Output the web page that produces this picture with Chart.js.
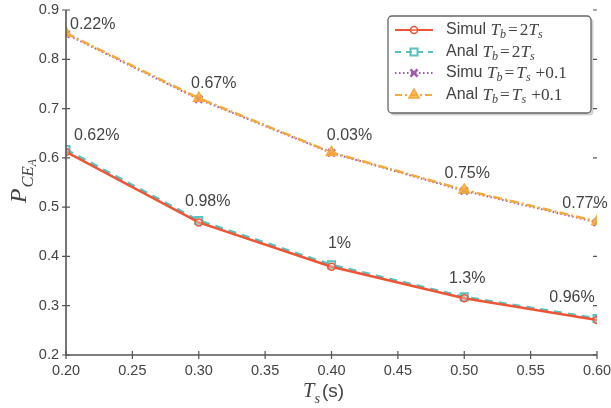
<!DOCTYPE html>
<html><head><meta charset="utf-8">
<script src="https://cdn.jsdelivr.net/npm/chart.js@4/dist/chart.umd.min.js"></script>
<style>html,body{margin:0;padding:0;background:#fff}#wrap{width:611px;height:408px}</style>
</head><body><div id="wrap"><canvas id="c" width="611" height="408"></canvas></div>
<script>
const xValues = [0.20, 0.30, 0.40, 0.50, 0.60];
const simulTb2Ts = [0.612, 0.469, 0.379, 0.315, 0.271];
const analTb2Ts = [0.617, 0.473, 0.383, 0.318, 0.274];
const simuTbTs01 = [0.851, 0.719, 0.610, 0.533, 0.469];
const analTbTs01 = [0.853, 0.721, 0.611, 0.535, 0.471];
const upperLabels = ['0.22%', '0.67%', '0.03%', '0.75%', '0.77%'];
const lowerLabels = ['0.62%', '0.98%', '1%', '1.3%', '0.96%'];
const xTicks = [0.20, 0.25, 0.30, 0.35, 0.40, 0.45, 0.50, 0.55, 0.60];
const yTicks = [0.2, 0.3, 0.4, 0.5, 0.6, 0.7, 0.8, 0.9];

const RED = '#ef5535', CYAN = '#55c3c3', PURPLE = '#a556b2', ORANGE = '#f8a93a';
const TXT = '#444';
const SANS = '"Liberation Sans", Arial, sans-serif';
const SERIF = '"Liberation Serif", "Times New Roman", serif';

function pts(arr){ return xValues.map((x,i)=>({x:x, y:arr[i]})); }

// rich text with subscripts (sub: 1 = subscript, 2 = sub-subscript)
function drawRich(ctx, parts, x, y, size){
  let cx = x;
  for (const p of parts){
    const lvl = p.sub || 0;
    const fs = size * Math.pow(0.7, lvl);
    let font;
    if (p.f === 'sans') font = fs + 'px ' + SANS;
    else if (p.f === 'it') font = 'italic ' + (fs*1.08) + 'px ' + SERIF;
    else font = (fs*1.08) + 'px ' + SERIF;
    ctx.font = font;
    const dy = lvl === 0 ? 0 : (lvl === 1 ? size*0.3 : size*0.45);
    ctx.fillText(p.t, cx, y + dy);
    cx += ctx.measureText(p.t).width + (p.sp || 0);
  }
  return cx - x;
}

const legendItems = [
  {color: RED, dash: [], parts:[{t:'Simul ',f:'sans'},{t:'T',f:'it'},{t:'b',f:'it',sub:1,sp:2},{t:'=',f:'rm',sp:2},{t:'2',f:'rm'},{t:'T',f:'it'},{t:'s',f:'it',sub:1}]},
  {color: CYAN, dash: [6,5], parts:[{t:'Anal ',f:'sans'},{t:'T',f:'it'},{t:'b',f:'it',sub:1,sp:2},{t:'=',f:'rm',sp:2},{t:'2',f:'rm'},{t:'T',f:'it'},{t:'s',f:'it',sub:1}]},
  {color: PURPLE, dash: [1.5,2.5], parts:[{t:'Simu ',f:'sans'},{t:'T',f:'it'},{t:'b',f:'it',sub:1,sp:2},{t:'=',f:'rm',sp:2},{t:'T',f:'it'},{t:'s',f:'it',sub:1,sp:5},{t:'+0.1',f:'rm'}]},
  {color: ORANGE, dash: [7,3,2,3], parts:[{t:'Anal ',f:'sans'},{t:'T',f:'it'},{t:'b',f:'it',sub:1,sp:2},{t:'=',f:'rm',sp:2},{t:'T',f:'it'},{t:'s',f:'it',sub:1,sp:5},{t:'+0.1',f:'rm'}]}
];

function drawMarker(ctx, ds, x, y){
  ctx.save();
  ctx.setLineDash([]);
  ctx.fillStyle = ds.pointBackgroundColor; ctx.strokeStyle = ds.pointBorderColor; ctx.lineWidth = ds.pointBorderWidth;
  Chart.helpers.drawPoint(ctx, {pointStyle: ds.pointStyle, radius: ds.pointRadius, borderWidth: ds.pointBorderWidth, rotation:0}, x, y);
  ctx.restore();
}
function roundRect(ctx, x, y, w, h, r){
  ctx.beginPath();
  ctx.moveTo(x+r, y); ctx.lineTo(x+w-r, y); ctx.arcTo(x+w, y, x+w, y+r, r);
  ctx.lineTo(x+w, y+h-r); ctx.arcTo(x+w, y+h, x+w-r, y+h, r);
  ctx.lineTo(x+r, y+h); ctx.arcTo(x, y+h, x, y+h-r, r);
  ctx.lineTo(x, y+r); ctx.arcTo(x, y, x+r, y, r); ctx.closePath();
}

const decorPlugin = {
  id:'decor',
  afterDatasetsDraw(chart){
    const ctx = chart.ctx, a = chart.chartArea;
    const xs = chart.scales.x, ys = chart.scales.y;
    ctx.save();
    // axes
    ctx.strokeStyle = '#555'; ctx.lineWidth = 1.6; ctx.setLineDash([]);
    ctx.beginPath();
    ctx.moveTo(a.left, a.top); ctx.lineTo(a.left, a.bottom); ctx.lineTo(a.right, a.bottom);
    ctx.stroke();
    ctx.lineWidth = 1.2;
    ctx.beginPath();
    for (const v of yTicks){
      const py = ys.getPixelForValue(v);
      ctx.moveTo(a.left-4, py); ctx.lineTo(a.left+4, py);
      ctx.moveTo(a.right-4, py); ctx.lineTo(a.right, py);
    }
    for (const v of xTicks){
      const px = xs.getPixelForValue(v);
      ctx.moveTo(px, a.bottom-4); ctx.lineTo(px, a.bottom+4);
    }
    ctx.stroke();

    // data labels
    ctx.fillStyle = TXT; ctx.font = '16px ' + SANS; ctx.textBaseline = 'middle';
    const upOff = [[4,-9,'left'],[15,-15,'center'],[18,-17,'center'],[3,-16,'center'],[-12,-18,'center']];
    const loOff = [[8,-14,'left'],[9,-19,'center'],[8,-21,'center'],[3,-18,'center'],[-25,-21,'center']];
    xValues.forEach((x,i)=>{
      const px = xs.getPixelForValue(x);
      let o = upOff[i];
      ctx.textAlign = o[2];
      ctx.fillText(upperLabels[i], px+o[0], ys.getPixelForValue(analTbTs01[i])+o[1]);
      o = loOff[i];
      ctx.textAlign = o[2];
      ctx.fillText(lowerLabels[i], px+o[0], ys.getPixelForValue(analTb2Ts[i])+o[1]);
    });

    // axis titles
    ctx.textAlign = 'left'; ctx.textBaseline = 'alphabetic';
    drawRich(ctx, [{t:'T',f:'it'},{t:'s',f:'it',sub:1,sp:2},{t:'(s)',f:'sans'}], 303, 397, 19);
    ctx.save();
    ctx.translate(26, 203);
    ctx.rotate(-Math.PI/2);
    drawRich(ctx, [{t:'P',f:'it',sp:1},{t:'CE',f:'it',sub:1},{t:'A',f:'it',sub:2}], 0, 0, 22);
    ctx.restore();

    // legend
    const L = {x:388, y:16, w:203, h:97};
    ctx.save();
    ctx.fillStyle = 'rgba(0,0,0,0.18)';
    roundRect(ctx, L.x+2.5, L.y+2.5, L.w, L.h, 4); ctx.fill();
    ctx.fillStyle = '#fff';
    roundRect(ctx, L.x, L.y, L.w, L.h, 4); ctx.fill();
    ctx.strokeStyle = '#666'; ctx.lineWidth = 1.3;
    roundRect(ctx, L.x, L.y, L.w, L.h, 4); ctx.stroke();
    ctx.restore();
    const rows = [30, 52, 73, 95];
    legendItems.forEach((it, i)=>{
      const y = rows[i];
      ctx.strokeStyle = it.color; ctx.lineWidth = 2.2; ctx.setLineDash(it.dash);
      ctx.beginPath(); ctx.moveTo(395, y); ctx.lineTo(433, y); ctx.stroke();
      ctx.setLineDash([]);
      drawMarker(ctx, chart.data.datasets[i], 414, y);
      ctx.fillStyle = TXT; ctx.textAlign='left'; ctx.textBaseline='middle';
      drawRich(ctx, it.parts, 446, y, 16);
    });
    ctx.restore();
  }
};

new Chart(document.getElementById('c'), {
  type:'line',
  data:{datasets:[
    {label:'Simul Tb=2Ts', data:pts(simulTb2Ts), borderColor:RED, borderWidth:2.5, pointStyle:'circle', pointRadius:3.5, pointBorderWidth:1.5, pointBackgroundColor:'rgba(255,255,255,0.3)', pointBorderColor:RED, order:1},
    {label:'Anal Tb=2Ts', data:pts(analTb2Ts), borderColor:CYAN, borderWidth:2.5, borderDash:[8,6], pointStyle:'rect', pointRadius:5, pointBorderWidth:2, pointBackgroundColor:'rgba(255,255,255,0)', pointBorderColor:CYAN, order:2},
    {label:'Simu Tb=Ts+0.1', data:pts(simuTbTs01), borderColor:PURPLE, borderWidth:2, borderDash:[1.5,2.5], pointStyle:'crossRot', pointRadius:5, pointBorderWidth:2.5, pointBackgroundColor:PURPLE, pointBorderColor:PURPLE, order:4},
    {label:'Anal Tb=Ts+0.1', data:pts(analTbTs01), borderColor:ORANGE, borderWidth:2.5, borderDash:[9,3,2,3], pointStyle:'triangle', pointRadius:6, pointBorderWidth:1.5, pointBackgroundColor:'rgba(248,169,58,0.75)', pointBorderColor:ORANGE, order:3}
  ]},
  options:{
    responsive:false, animation:false, devicePixelRatio:1,
    layout:{padding:{left:0, right:14, top:10, bottom:0}},
    plugins:{legend:{display:false}, tooltip:{enabled:false}},
    scales:{
      x:{type:'linear', min:0.2, max:0.6,
        afterBuildTicks:(s)=>{s.ticks = xTicks.map(v=>({value:v}));},
        afterFit:(s)=>{s.height = 53; s.paddingLeft = 0; s.paddingRight = 0;},
        grid:{display:false, drawTicks:false}, border:{display:false},
        ticks:{padding:7, color:TXT, font:{family:SANS, size:14.5}, maxRotation:0, autoSkip:false, callback:(v)=>Number(v).toFixed(2)}},
      y:{type:'linear', min:0.2, max:0.9,
        afterBuildTicks:(s)=>{s.ticks = yTicks.map(v=>({value:v}));},
        afterFit:(s)=>{s.width = 66; s.paddingTop = 0; s.paddingBottom = 0;},
        grid:{display:false, drawTicks:false}, border:{display:false},
        ticks:{padding:7, color:TXT, font:{family:SANS, size:14.5}, autoSkip:false, callback:(v)=>Number(v).toFixed(1)}}
    }
  },
  plugins:[decorPlugin]
});
</script></body></html>
